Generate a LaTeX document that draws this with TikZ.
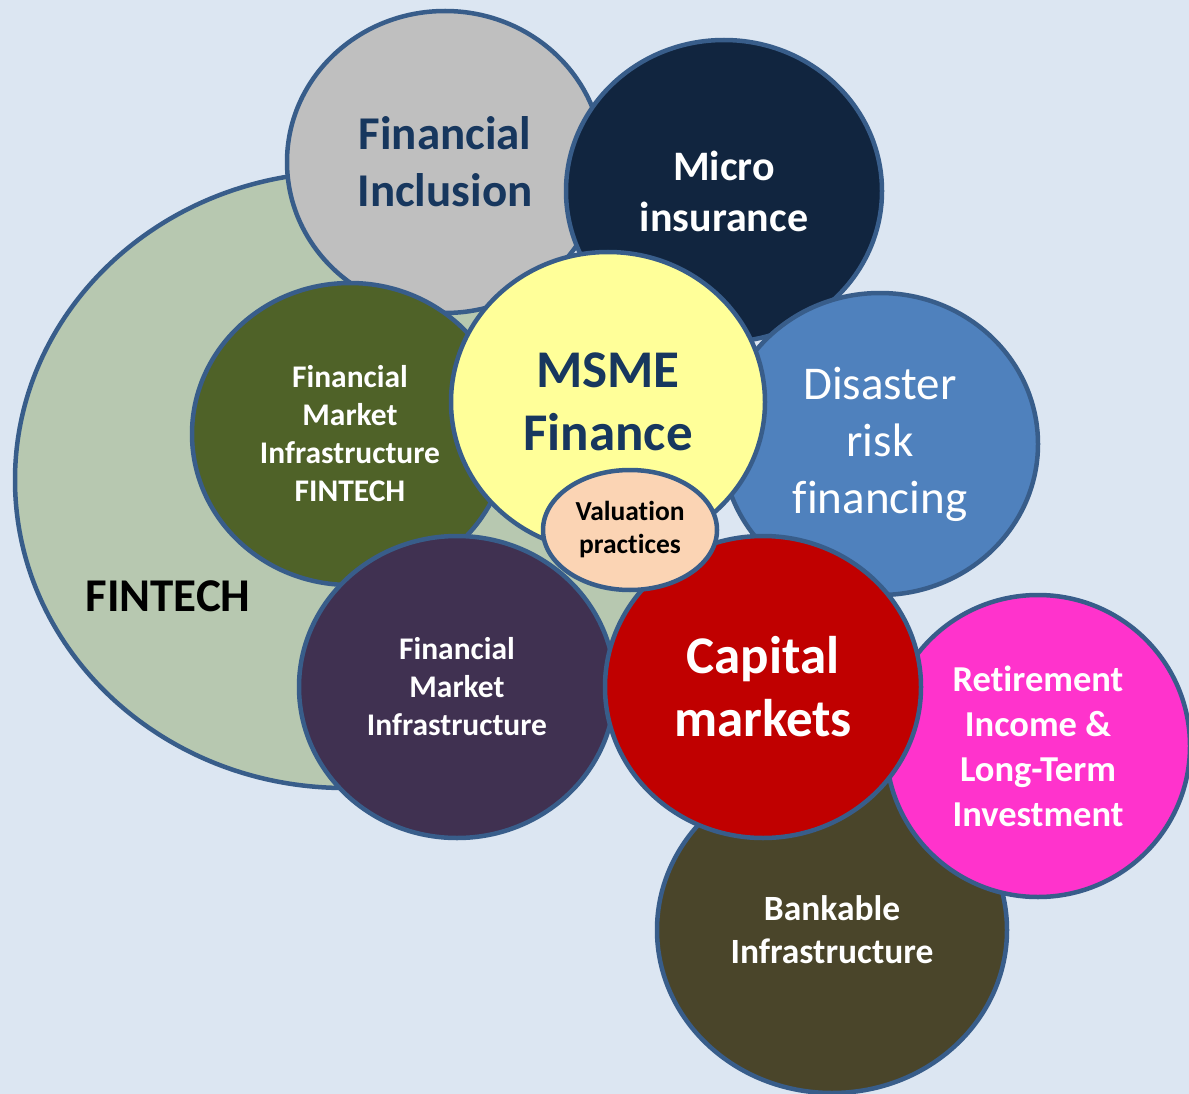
\documentclass[tikz,border=0pt]{standalone}
\usepackage{fontspec}
\setmainfont{Carlito}[Ligatures={NoCommon}]
\usepackage{xcolor}
\usetikzlibrary{shapes.geometric}
\definecolor{bgblue}{RGB}{220,230,242}
\definecolor{edgeblue}{RGB}{56,93,138}
\definecolor{sage}{RGB}{183,200,176}
\definecolor{lightgrey}{RGB}{191,191,191}
\definecolor{navytext}{RGB}{23,55,94}
\definecolor{darknavy}{RGB}{17,37,63}
\definecolor{olive}{RGB}{79,98,40}
\definecolor{paleyellow}{RGB}{255,255,153}
\definecolor{midblue}{RGB}{79,129,189}
\definecolor{peach}{RGB}{251,212,180}
\definecolor{darkplum}{RGB}{64,49,81}
\definecolor{darkred}{RGB}{192,0,0}
\definecolor{hotpink}{RGB}{255,51,204}
\definecolor{darkbrown}{RGB}{74,69,42}

\begin{document}
\begin{tikzpicture}[
    x=1pt, y=-1pt,
    bubble/.style={ellipse, draw=edgeblue, line width=4.5pt, inner sep=0pt, align=center, text=white},
    circle300/.style={minimum width=316pt, minimum height=302pt},
]
    % Background
    \fill[bgblue] (0,0) rectangle (1189,1094);
    \useasboundingbox (0,0) rectangle (1189,1094);

    % Outer FINTECH field
    \node[bubble, fill=sage, minimum width=660pt, minimum height=616pt] (fintech) at (345,480) {};
    \node[font=\fontsize{47}{56}\selectfont\bfseries, text=black] (fintechlabel) at (168,596) {FINTECH};

    % Upper ring
    \node[bubble, circle300, fill=lightgrey, text=navytext, font=\fontsize{47}{57}\selectfont\bfseries] (inclusion) at (445,162) {Financial\\Inclusion};
    \node[bubble, circle300, fill=darknavy, font=\fontsize{42}{51}\selectfont\bfseries] (micro) at (724,191) {Micro\\insurance};
    \node[bubble, circle300, fill=olive, font=\fontsize{31.5}{38}\selectfont\bfseries] (fmifintech) at (350,434) {Financial\\Market\\Infrastructure\\FINTECH};
    \node[bubble, circle300, fill=midblue, font=\fontsize{47}{57}\selectfont] (disaster) at (880,444) {Disaster\\risk\\financing};
    \node[bubble, minimum width=314pt, minimum height=300pt, fill=paleyellow, text=navytext, font=\fontsize{53}{63}\selectfont\bfseries] (msme) at (608,402) {MSME\\Finance};

    % Lower ring
    \node[bubble, minimum width=350pt, minimum height=326pt, fill=darkbrown, font=\fontsize{35.5}{43}\selectfont\bfseries] (bankable) at (832,930) {Bankable\\Infrastructure};
    \node[bubble, minimum width=304pt, minimum height=302pt, fill=hotpink, font=\fontsize{36.5}{45}\selectfont\bfseries] (retirement) at (1038,746) {Retirement\\Income \&\\Long-Term\\Investment};
    \node[bubble, circle300, fill=darkplum, font=\fontsize{31.5}{38}\selectfont\bfseries] (fmi) at (457,687) {Financial\\Market\\Infrastructure};
    \node[bubble, circle300, fill=darkred, font=\fontsize{53}{63}\selectfont\bfseries] (capital) at (763,687) {Capital\\markets};

    % Centre
    \node[bubble, minimum width=174pt, minimum height=120pt, fill=peach, text=black, font=\fontsize{27.5}{33}\selectfont\bfseries] (valuation) at (630,530) {Valuation\\practices};
\end{tikzpicture}
\end{document}
